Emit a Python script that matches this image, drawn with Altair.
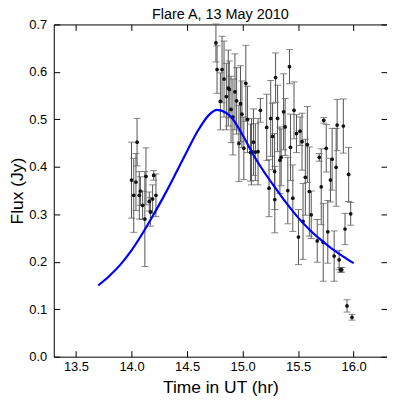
import altair as alt
import pandas as pd

# ---- data ----
time_hr = [14.00, 14.02, 14.04, 14.05, 14.07, 14.08, 14.10, 14.12, 14.13, 14.16, 14.17, 14.19, 14.20, 14.22,
           14.76, 14.77, 14.80, 14.815, 14.833, 14.854, 14.871, 14.88, 14.896, 14.913, 14.931, 14.946, 14.967,
           14.981, 14.994, 15.011, 15.029, 15.044, 15.071, 15.08, 15.098, 15.115, 15.139, 15.16, 15.217, 15.238,
           15.253, 15.27, 15.288, 15.29, 15.297, 15.315, 15.336, 15.347, 15.369, 15.383, 15.407, 15.422, 15.431,
           15.452, 15.463, 15.485, 15.503, 15.517, 15.535, 15.544, 15.565, 15.583, 15.601, 15.618, 15.672, 15.69,
           15.708, 15.726, 15.731, 15.753, 15.767, 15.791, 15.806, 15.824, 15.842, 15.851, 15.869, 15.88, 15.892,
           15.907, 15.922, 15.94, 15.955, 15.973, 15.985]
flux_jy = [0.372, 0.340, 0.368, 0.452, 0.340, 0.349, 0.319, 0.290, 0.380, 0.327, 0.305, 0.332, 0.382, 0.340,
           0.661, 0.605, 0.538, 0.605, 0.585, 0.548, 0.566, 0.563, 0.521, 0.505, 0.558, 0.539, 0.449,
           0.533, 0.511, 0.439, 0.576, 0.500, 0.430, 0.432, 0.452, 0.431, 0.432, 0.519, 0.483, 0.355,
           0.502, 0.464, 0.390, 0.331, 0.588, 0.502, 0.414, 0.420, 0.516, 0.484, 0.350, 0.611, 0.441,
           0.334, 0.519, 0.470, 0.252, 0.475, 0.453, 0.285, 0.378, 0.447, 0.348, 0.299, 0.244, 0.420,
           0.358, 0.241, 0.498, 0.439, 0.263, 0.372, 0.416, 0.212, 0.399, 0.488, 0.204, 0.183, 0.183,
           0.486, 0.269, 0.107, 0.384, 0.301, 0.083]
flux_err = [0.080, 0.078, 0.060, 0.050, 0.050, 0.030, 0.030, 0.100, 0.060, 0.020, 0.030, 0.030, 0.010, 0.045,
            0.040, 0.050, 0.060, 0.070, 0.080, 0.070, 0.080, 0.060, 0.070, 0.080, 0.080, 0.070, 0.080,
            0.080, 0.070, 0.066, 0.080, 0.070, 0.060, 0.070, 0.070, 0.060, 0.070, 0.025, 0.070, 0.060,
            0.080, 0.070, 0.080, 0.070, 0.052, 0.070, 0.070, 0.060, 0.080, 0.060, 0.070, 0.036, 0.070,
            0.070, 0.060, 0.040, 0.058, 0.030, 0.060, 0.080, 0.080, 0.080, 0.094, 0.050, 0.045, 0.008,
            0.080, 0.082, 0.006, 0.050, 0.066, 0.046, 0.065, 0.053, 0.082, 0.054, 0.020, 0.005, 0.005,
            0.057, 0.033, 0.013, 0.057, 0.024, 0.006]

model_time = [13.70, 13.80, 13.90, 14.00, 14.10, 14.20, 14.30, 14.40, 14.50, 14.60, 14.70, 14.77, 14.85,
              14.90, 15.00, 15.10, 15.20, 15.30, 15.40, 15.50, 15.60, 15.70, 15.80, 15.90, 16.00]
model_flux = [0.150, 0.170, 0.194, 0.224, 0.260, 0.300, 0.342, 0.387, 0.433, 0.477, 0.510, 0.520, 0.514,
              0.504, 0.467, 0.424, 0.387, 0.354, 0.322, 0.293, 0.268, 0.247, 0.228, 0.212, 0.197]

x_ticks = [13.5, 14.0, 14.5, 15.0, 15.5, 16.0]
y_ticks = [0.0, 0.1, 0.2, 0.3, 0.4, 0.5, 0.6, 0.7]

obs = pd.DataFrame({"t": time_hr, "f": flux_jy, "e": flux_err})
obs["lo"] = obs["f"] - obs["e"]
obs["hi"] = obs["f"] + obs["e"]
model = pd.DataFrame({"t": model_time, "f": model_flux})

FONT = "Liberation Sans"
xs = alt.Scale(domain=[13.3, 16.3], nice=False, zero=False)
ys = alt.Scale(domain=[0.0, 0.7], nice=False, zero=False)

x_bottom = alt.Axis(values=x_ticks, format=".1f", title="Time in UT (hr)", orient="bottom",
                    offset=-6, tickSize=6, domain=False, labelPadding=4, labelFlush=False,
                    grid=False, titlePadding=5)
y_left = alt.Axis(values=y_ticks, format=".1f", title="Flux (Jy)", orient="left",
                  offset=-6, tickSize=6, domain=False, labelPadding=7, grid=False, titlePadding=2)
x_top = alt.Axis(values=x_ticks, orient="top", labels=False, title=None, offset=-6, tickSize=6,
                 domain=False, grid=False)
y_right = alt.Axis(values=y_ticks, orient="right", labels=False, title=None, offset=-6, tickSize=6,
                   domain=False, grid=False)

bar_color = "#555555"

bars = alt.Chart(obs).mark_rule(color=bar_color, strokeWidth=1).encode(
    x=alt.X("t:Q", scale=xs, axis=x_bottom),
    y=alt.Y("lo:Q", scale=ys, axis=y_left),
    y2="hi:Q",
)
cap_lo = alt.Chart(obs).mark_tick(color=bar_color, orient="horizontal", size=7, thickness=1).encode(
    x=alt.X("t:Q", scale=xs, axis=None),
    y=alt.Y("lo:Q", scale=ys, axis=None),
)
cap_hi = alt.Chart(obs).mark_tick(color=bar_color, orient="horizontal", size=7, thickness=1).encode(
    x=alt.X("t:Q", scale=xs, axis=None),
    y=alt.Y("hi:Q", scale=ys, axis=None),
)
pts = alt.Chart(obs).mark_point(filled=True, shape="circle", size=14, color="#111111", opacity=1).encode(
    x=alt.X("t:Q", scale=xs, axis=None),
    y=alt.Y("f:Q", scale=ys, axis=None),
)
curve = alt.Chart(model).mark_line(color="#0000ff", strokeWidth=2.2, interpolate="monotone").encode(
    x=alt.X("t:Q", scale=xs, axis=x_top),
    y=alt.Y("f:Q", scale=ys, axis=y_right),
)

chart = (
    alt.layer(bars, cap_lo, cap_hi, pts, curve)
    .resolve_axis(x="independent", y="independent")
    .properties(
        width=335,
        height=334,
        autosize=alt.AutoSizeParams(type="none"),
        padding={"left": 46, "top": 15.5, "right": 0, "bottom": 40},
        title=alt.TitleParams("Flare A, 13 May 2010", font=FONT, fontSize=14.5, fontWeight="normal",
                              color="black", offset=-15, anchor="middle", baseline="alphabetic",
                              frame="group"),
        background="white",
    )
    .configure_axis(labelFont=FONT, labelFontSize=13, labelColor="black", titleFont=FONT,
                    titleFontSize=17.5, titleFontWeight="normal", titleColor="black",
                    tickColor="black", tickWidth=1)
    .configure_view(stroke="black", strokeWidth=1)
)

chart.save("out.html", embed_options={"renderer": "svg", "actions": False})
